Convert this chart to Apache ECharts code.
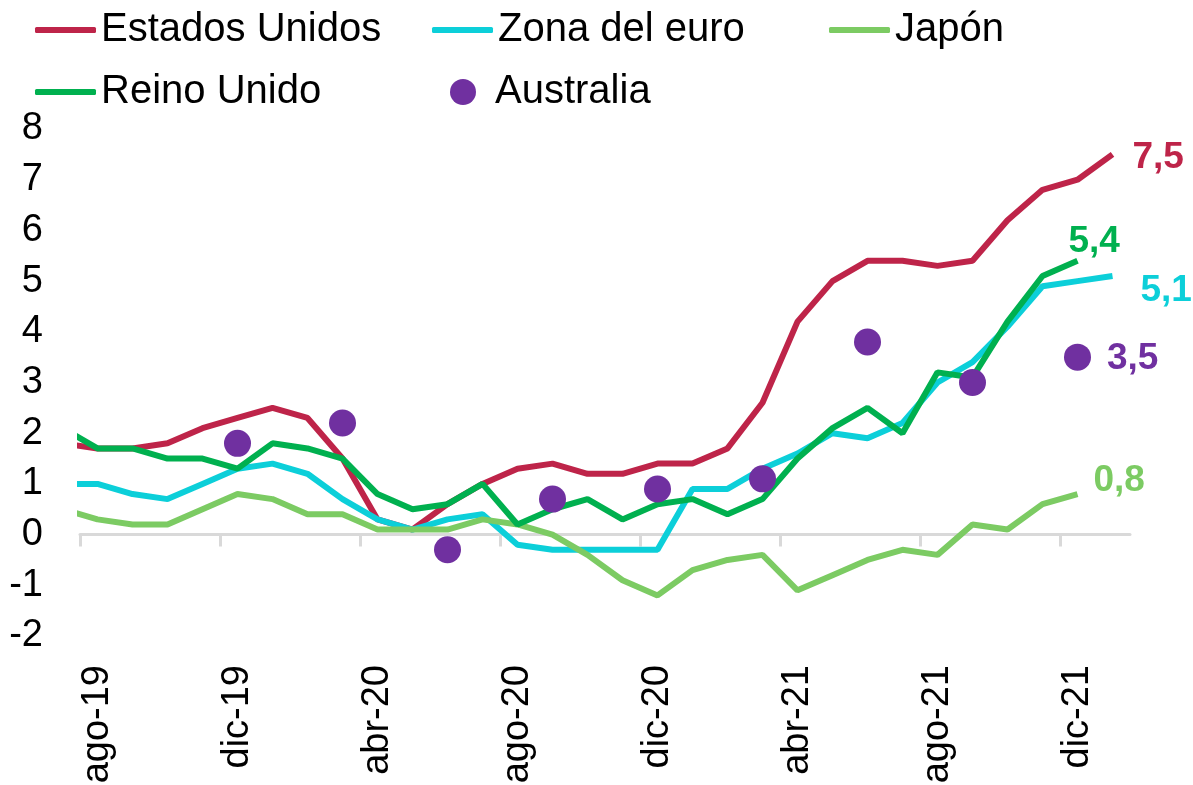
<!DOCTYPE html>
<html>
<head>
<meta charset="utf-8">
<script src="https://cdn.jsdelivr.net/npm/echarts@6/dist/echarts.min.js"></script>
<style>
    html, body {margin: 0; padding: 0; background: #fff;}
    #chart {width: 1193px; height: 785px;}
</style>
</head>
<body>
<div id="chart"></div>
<script>
// meses (jul-19 queda fuera del eje, solo se ve el tramo recortado)
var months = ['jul-19', 'ago-19', 'sep-19', 'oct-19', 'nov-19', 'dic-19',
    'ene-20', 'feb-20', 'mar-20', 'abr-20', 'may-20', 'jun-20', 'jul-20', 'ago-20', 'sep-20', 'oct-20', 'nov-20', 'dic-20',
    'ene-21', 'feb-21', 'mar-21', 'abr-21', 'may-21', 'jun-21', 'jul-21', 'ago-21', 'sep-21', 'oct-21', 'nov-21', 'dic-21',
    'ene-22'];
var tickLabels = ['ago-19', 'dic-19', 'abr-20', 'ago-20', 'dic-20', 'abr-21', 'ago-21', 'dic-21'];

var estadosUnidos = [1.8, 1.7, 1.7, 1.8, 2.1, 2.3, 2.5, 2.3, 1.5, 0.3, 0.1, 0.6, 1.0, 1.3, 1.4, 1.2, 1.2, 1.4,
    1.4, 1.7, 2.6, 4.2, 5.0, 5.4, 5.4, 5.3, 5.4, 6.2, 6.8, 7.0, 7.5];
var zonaEuro = [1.0, 1.0, 0.8, 0.7, 1.0, 1.3, 1.4, 1.2, 0.7, 0.3, 0.1, 0.3, 0.4, -0.2, -0.3, -0.3, -0.3, -0.3,
    0.9, 0.9, 1.3, 1.6, 2.0, 1.9, 2.2, 3.0, 3.4, 4.1, 4.9, 5.0, 5.1];
var japon = [0.5, 0.3, 0.2, 0.2, 0.5, 0.8, 0.7, 0.4, 0.4, 0.1, 0.1, 0.1, 0.3, 0.2, 0.0, -0.4, -0.9, -1.2,
    -0.7, -0.5, -0.4, -1.1, -0.8, -0.5, -0.3, -0.4, 0.2, 0.1, 0.6, 0.8, null];
var reinoUnido = [2.1, 1.7, 1.7, 1.5, 1.5, 1.3, 1.8, 1.7, 1.5, 0.8, 0.5, 0.6, 1.0, 0.2, 0.5, 0.7, 0.3, 0.6,
    0.7, 0.4, 0.7, 1.5, 2.1, 2.5, 2.0, 3.2, 3.1, 4.2, 5.1, 5.4, null];
var australia = [null, null, null, null, null, 1.8, null, null, 2.2, null, null, -0.3, null, null, 0.7, null, null, 0.9,
    null, null, 1.1, null, null, 3.8, null, null, 3.0, null, null, 3.5, null];

var FONT = '"Liberation Sans", Arial, sans-serif';

function toPoints(values) {
    var pts = [];
    values.forEach(function (v, i) {
        if (v !== null) pts.push([i, v]);
    });
    return pts;
}

function fmt(p) {
    return String(p.value[1]).replace('.', ',');
}

function endLabel(color, distance, offset) {
    return {
        show: true,
        formatter: fmt,
        color: color,
        fontFamily: FONT,
        fontSize: 37,
        fontWeight: 'bold',
        distance: distance,
        offset: offset
    };
}

function lineSeries(name, values, color, label) {
    return {
        name: name,
        type: 'line',
        data: toPoints(values),
        symbol: 'none',
        lineStyle: {color: color, width: 6},
        itemStyle: {color: color},
        endLabel: label,
        animation: false
    };
}

var labelIdx = tickLabels.map(function (l) { return months.indexOf(l); });
var tickIdx = labelIdx.map(function (i) { return i - 0.5; });

var ausPoints = toPoints(australia);
ausPoints[ausPoints.length - 1] = {
    value: ausPoints[ausPoints.length - 1],
    label: {
        show: true, position: 'right', distance: 16, offset: [0, 2], formatter: fmt,
        color: '#7030a0', fontFamily: FONT, fontSize: 37, fontWeight: 'bold'
    }
};

function legendItem(name, left, top, isDot) {
    return {
        data: [{name: name, icon: isDot ? 'circle' : 'roundRect'}],
        left: left,
        top: top,
        padding: 0,
        itemWidth: isDot ? 26 : 61,
        itemHeight: isDot ? 26 : 6,
        selectedMode: false,
        textStyle: {
            color: '#000', fontFamily: FONT, fontSize: 40, lineHeight: 42,
            padding: isDot ? [0, 0, 0, 14] : 0
        }
    };
}

var myChart = echarts.init(document.getElementById('chart'));
myChart.setOption({
    animation: false,
    backgroundColor: '#fff',
    legend: [
        legendItem('Estados Unidos', 35, 9),
        legendItem('Zona del euro', 432, 9),
        legendItem('Japón', 829, 9),
        legendItem('Reino Unido', 35, 71),
        legendItem('Australia', 450, 71, true)
    ],
    grid: {left: 80, right: 63, top: 129, bottom: 149, containLabel: false, outerBoundsMode: 'none'},
    xAxis: {
        type: 'value',
        min: 0.5,
        max: 30.5,
        axisLine: {show: true, onZero: true, lineStyle: {color: '#d9d9d9', width: 3}},
        axisTick: {show: true, length: 12, customValues: tickIdx, lineStyle: {color: '#d9d9d9', width: 3}},
        axisLabel: {
            customValues: labelIdx,
            formatter: function (v) { return months[Math.round(v)]; },
            rotate: 90,
            align: 'right',
            verticalAlign: 'middle',
            margin: 29,
            color: '#000',
            fontFamily: FONT,
            fontSize: 38
        },
        splitLine: {show: false}
    },
    yAxis: {
        type: 'value',
        min: -2,
        max: 8,
        interval: 1,
        axisLine: {show: false},
        axisTick: {show: false},
        splitLine: {show: false},
        axisLabel: {color: '#000', fontFamily: FONT, fontSize: 38, margin: 37}
    },
    series: [
        lineSeries('Estados Unidos', estadosUnidos, '#be2449', endLabel('#be2449', 20, [0, 3])),
        lineSeries('Zona del euro', zonaEuro, '#0ccfd9', endLabel('#0ccfd9', 28, [0, 15])),
        lineSeries('Japón', japon, '#7ccb63', endLabel('#7ccb63', 16, [0, -13])),
        lineSeries('Reino Unido', reinoUnido, '#00b04f', endLabel('#00b04f', 0, [-9, -19])),
        {
            name: 'Australia',
            type: 'scatter',
            data: ausPoints,
            symbol: 'circle',
            symbolSize: 27,
            itemStyle: {color: '#7030a0', opacity: 1},
            z: 5,
            animation: false
        }
    ]
});
</script>
</body>
</html>
